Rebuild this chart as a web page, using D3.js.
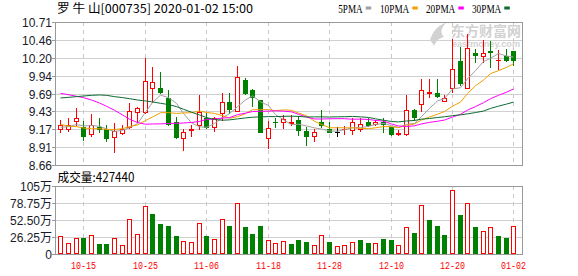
<!DOCTYPE html>
<html><head><meta charset="utf-8">
<script src="https://cdn.jsdelivr.net/npm/d3@7"></script>
<style>body{margin:0;background:#fff}svg{display:block}</style>
</head><body>
<svg id="c" width="578" height="276"></svg>
<script>
const dates = ["10-10","10-11","10-14","10-15","10-16","10-17","10-18","10-21","10-22","10-23","10-24","10-25","10-28","10-29","10-30","10-31","11-01","11-04","11-05","11-06","11-07","11-08","11-11","11-12","11-13","11-14","11-15","11-18","11-19","11-20","11-21","11-22","11-25","11-26","11-27","11-28","11-29","12-02","12-03","12-04","12-05","12-06","12-09","12-10","12-11","12-12","12-13","12-16","12-17","12-18","12-19","12-20","12-23","12-24","12-25","12-26","12-27","12-30","12-31","01-02"];
const open = [9.17,9.18,9.29,9.21,9.10,9.20,9.17,9.06,9.12,9.21, 9.42,9.42,9.77,9.76,9.62,9.28,9.05,9.16,9.23,9.34, 9.20,9.40,9.56,9.43,9.88,9.73,9.59,9.04,9.28,9.28, 9.26,9.31,9.15,9.08,9.28,9.18,9.14,9.17,9.16,9.18, 9.28,9.25,9.27,9.20,9.11,9.10,9.45,9.54,9.69,9.69, 9.58,9.76,10.15,9.77,10.26,10.22,10.30,10.16,10.22,10.30];
const high = [9.31,9.34,9.48,9.29,9.39,9.34,9.23,9.26,9.23,9.55, 9.49,10.19,10.06,9.99,9.74,9.35,9.18,9.23,9.67,9.41, 9.35,9.69,9.69,10.08,9.91,9.75,9.59,9.29,9.34,9.37, 9.37,9.36,9.21,9.18,9.45,9.28,9.21,9.22,9.33,9.34, 9.33,9.31,9.33,9.20,9.16,9.66,9.46,9.90,9.89,9.89, 9.67,10.47,10.35,10.54,10.32,10.45,10.44,10.31,10.33,10.30];
const low = [9.13,9.15,9.24,9.02,9.08,9.13,9.01,8.85,9.10,9.19, 9.28,9.40,9.57,9.69,9.23,9.05,8.87,9.08,9.18,9.19, 9.15,9.30,9.40,9.43,9.68,9.50,9.13,8.91,9.20,9.19, 9.24,9.09,8.95,9.00,9.20,9.13,9.07,9.11,9.11,9.15, 9.22,9.24,9.14,9.09,9.09,9.09,9.31,9.43,9.64,9.63, 9.58,9.71,9.80,9.77,10.13,10.13,10.06,10.04,10.15,10.10];
const close = [9.23,9.24,9.34,9.08,9.24,9.18,9.05,9.15,9.17,9.43, 9.47,9.86,9.85,9.70,9.25,9.06,9.13,9.18,9.42,9.21, 9.33,9.56,9.46,9.92,9.69,9.63,9.13,9.19,9.27,9.32, 9.28,9.16,9.07,9.13,9.24,9.14,9.14,9.18,9.27,9.25, 9.23,9.28,9.25,9.11,9.12,9.45,9.35,9.74,9.70,9.65, 9.62,10.04,9.83,10.34,10.24,10.26,10.28,10.17,10.16,10.17];
// volume in 万 (10k shares)
const volume = [28.4,17.6,24.8,25.3,29.5,16.0,16.0,24.8,14.5,54.8, 31.5,74.4,61.0,47.0,43.9,27.4,20.7,19.1,48.4,27.3, 23.7,54.6,43.8,79.3,41.2,30.4,43.8,22.1,17.0,20.6, 16.0,21.1,18.0,13.4,29.9,18.0,11.8,13.4,19.1,21.1, 16.5,16.5,22.7,21.1,13.4,41.2,31.9,75.2,52.0,42.7, 28.8,98.4,59.7,79.3,41.2,36.0,41.2,27.8,24.2,42.744];
const ma5 = [9.20,9.21,9.24,9.22,9.226,9.216,9.178,9.14,9.158,9.196, 9.254,9.416,9.556,9.662,9.626,9.544,9.398,9.264,9.208,9.20, 9.254,9.34,9.396,9.496,9.592,9.652,9.566,9.512,9.382,9.308, 9.238,9.244,9.22,9.192,9.176,9.148,9.144,9.166,9.194,9.196, 9.214,9.242,9.256,9.224,9.198,9.242,9.256,9.354,9.472,9.578, 9.612,9.75,9.768,9.896,10.014,10.142,10.19,10.258,10.222,10.208];
const ma10 = [9.24,9.22,9.21,9.19,9.18,9.18,9.17,9.17,9.18,9.211, 9.235,9.297,9.348,9.41,9.411,9.399,9.407,9.41,9.435,9.413, 9.399,9.369,9.33,9.352,9.396,9.453,9.453,9.454,9.439,9.45, 9.445,9.405,9.366,9.287,9.242,9.193,9.194,9.193,9.193,9.186, 9.181,9.193,9.211,9.209,9.197,9.228,9.249,9.305,9.348,9.388, 9.427,9.503,9.561,9.684,9.796,9.877,9.97,10.013,10.059,10.111];
const ma20 = [9.687,9.668,9.645,9.626,9.592,9.549,9.502,9.445,9.378,9.316, 9.269,9.245,9.248,9.25,9.255,9.258,9.262,9.27,9.285,9.312, 9.317,9.333,9.339,9.381,9.404,9.426,9.43,9.432,9.437,9.432, 9.422,9.387,9.348,9.32,9.319,9.323,9.324,9.324,9.316,9.318, 9.313,9.299,9.289,9.248,9.22,9.211,9.222,9.249,9.271,9.287, 9.304,9.348,9.386,9.447,9.497,9.553,9.61,9.659,9.704,9.75];
const ma30 = [9.621,9.630,9.640,9.649,9.659,9.664,9.659,9.640,9.626,9.611, 9.592,9.578,9.564,9.545,9.526,9.497,9.459,9.416,9.378,9.340, 9.312,9.302,9.307,9.321,9.335,9.345,9.350,9.354,9.354,9.358, 9.36,9.357,9.348,9.35,9.35,9.348,9.351,9.352,9.356,9.35, 9.342,9.322,9.302,9.283,9.278,9.291,9.299,9.317,9.327,9.341, 9.351,9.367,9.379,9.393,9.412,9.433,9.471,9.504,9.533,9.562];
const priceTicks = ["8.66","8.91","9.17","9.43","9.69","9.94","10.20","10.46","10.71"];
const volTickValues = [0,26.25,52.5,78.75,105];
const volTickLabels = ["0","26.25万","52.50万","78.75万","105万"];
const dateTicks = ["10-15","10-25","11-06","11-18","11-28","12-10","12-20","01-02"];
const maNames = ["5PMA","10PMA","20PMA","30PMA"];
const title = "罗 牛 山[000735] 2020-01-02 15:00";
const volTitle = "成交量:427440";

const RED="#ff0000", GREEN="#008000", BLACK="#000";
const maColors = ["#a0a0a0","#f0a000","#ff00ff","#0b6b32"];
const svg = d3.select("#c");
const L=55, R=522, PT=22, PB=165, VT=186, VB=254;

const x = d3.scaleBand().domain(dates).range([56.46, 517.26]);
const cx = d => Math.round(x(d) + x.bandwidth()/2);
const yP = d3.scaleLinear().domain([8.66,10.71]).range([PB,PT]);
const yV = d3.scaleLinear().domain([0,105]).range([VB,VT]);
const tickPos = d3.range(priceTicks.length).map(k => 8.66 + k*(10.71-8.66)/(priceTicks.length-1));

// ---------- grids ----------
const g = svg.append("g");
g.selectAll(".hg").data(tickPos.slice(1,-1)).join("line")
  .attr("x1",L).attr("x2",R)
  .attr("y1",d=>Math.round(yP(d))+0.5).attr("y2",d=>Math.round(yP(d))+0.5)
  .attr("stroke","#d0d0d0");
g.selectAll(".vg").data(volTickValues.slice(1,-1)).join("line")
  .attr("x1",L).attr("x2",R)
  .attr("y1",d=>Math.round(yV(d))+0.5).attr("y2",d=>Math.round(yV(d))+0.5)
  .attr("stroke","#d0d0d0");
dateTicks.forEach(dt=>{
  const xx = cx(dt)+0.5;
  g.append("line").attr("x1",xx).attr("x2",xx).attr("y1",PT).attr("y2",PB)
    .attr("stroke","#c8c8c8").attr("stroke-dasharray","4,4");
  g.append("line").attr("x1",xx).attr("x2",xx).attr("y1",VT).attr("y2",VB)
    .attr("stroke","#c8c8c8").attr("stroke-dasharray","4,4");
});

// ---------- watermark ----------
const wm = svg.append("g").attr("fill","#d2d2d2");
wm.append("path").attr("d","M430,40 C433,30 440,24 446,23 C441,28 440,33 444,37 C439,38 436,41 434,46 C433,43 431,42 430,40 Z");
wm.append("text").attr("x",451).attr("y",36).attr("font-family","Noto Sans CJK SC").attr("font-size",13.5).attr("font-weight","bold")
  .attr("textLength",70).attr("lengthAdjust","spacingAndGlyphs").text("东方财富网");
wm.append("text").attr("x",452).attr("y",47).attr("font-family","Liberation Sans").attr("font-size",8.5).attr("font-weight","bold")
  .attr("textLength",68).attr("lengthAdjust","spacingAndGlyphs").text("eastmoney.com");

// ---------- candles ----------
const idx = d3.range(dates.length);
const candleColor = i => close[i]>open[i]?RED:(close[i]<open[i]?GREEN:BLACK);
const cg = svg.append("g");
idx.forEach(i=>{
  const c = candleColor(i), xx = cx(dates[i]);
  const yo = yP(open[i]), yc = yP(close[i]);
  const top = Math.round(Math.min(yo,yc)), bot = Math.round(Math.max(yo,yc));
  cg.append("line").attr("x1",xx+0.5).attr("x2",xx+0.5)
    .attr("y1",Math.round(yP(high[i]))).attr("y2",Math.round(yP(low[i]))+1)
    .attr("stroke",c);
  if (bot-top < 2) {
    cg.append("rect").attr("x",xx-2).attr("y",top).attr("width",5).attr("height",Math.max(1,bot-top+1)).attr("fill",c);
  } else if (c===RED) {
    cg.append("rect").attr("x",xx-1.5).attr("y",top+0.5).attr("width",4).attr("height",bot-top)
      .attr("fill","#fff").attr("stroke",RED);
  } else {
    cg.append("rect").attr("x",xx-2).attr("y",top).attr("width",5).attr("height",bot-top+1).attr("fill",c);
  }
});

// ---------- MA lines ----------
[ma5,ma10,ma20,ma30].forEach((arr,k)=>{
  svg.append("path").datum(idx)
    .attr("d", d3.line().x(i=>cx(dates[i])+0.5).y(i=>yP(arr[i])))
    .attr("fill","none").attr("stroke",maColors[k]).attr("stroke-width",1);
});

// ---------- volume ----------
const vg = svg.append("g");
idx.forEach(i=>{
  const upv = i===0 ? close[i]>=open[i] : close[i]>=close[i-1];
  const xx = cx(dates[i]);
  const top = Math.round(yV(volume[i]));
  if (upv) {
    vg.append("rect").attr("x",xx-1.5).attr("y",top+0.5).attr("width",4).attr("height",VB-top-1)
      .attr("fill","#fff").attr("stroke",RED);
  } else {
    vg.append("rect").attr("x",xx-2).attr("y",top).attr("width",5).attr("height",VB-top).attr("fill",GREEN);
  }
});

// ---------- frames & axes ----------
const fr = svg.append("g").attr("stroke","#999").attr("fill","none");
fr.append("rect").attr("x",L+0.5).attr("y",PT+0.5).attr("width",R-L).attr("height",PB-PT);
fr.append("rect").attr("x",L+0.5).attr("y",VT+0.5).attr("width",R-L).attr("height",VB-VT);

const ax = svg.append("g").attr("font-family","Liberation Sans, Arial, Noto Sans CJK SC").attr("font-size",12).attr("fill","#1a1a2a");
tickPos.forEach((v,k)=>{
  const yy = Math.round(yP(v))+0.5;
  ax.append("line").attr("x1",52).attr("x2",L).attr("y1",yy).attr("y2",yy).attr("stroke","#999");
  ax.append("text").attr("x",52).attr("y",yy).attr("text-anchor","end").attr("dominant-baseline","central").text(priceTicks[k]);
});
volTickValues.forEach((v,k)=>{
  const yy = Math.round(yV(v))+0.5;
  ax.append("line").attr("x1",52).attr("x2",L).attr("y1",yy).attr("y2",yy).attr("stroke","#999");
  ax.append("text").attr("x",52).attr("y",yy).attr("text-anchor","end").attr("dominant-baseline","central")
    .attr("font-family","Liberation Sans, Noto Sans CJK SC").text(volTickLabels[k]);
});
dateTicks.forEach(dt=>{
  svg.append("text").attr("x",cx(dt)+0.5).attr("y",269).attr("text-anchor","middle")
    .attr("font-family","Liberation Mono, DejaVu Sans Mono").attr("font-size",10.5).attr("fill",RED)
    .attr("textLength",25).attr("lengthAdjust","spacingAndGlyphs").text(dt);
});

// ---------- titles & legend ----------
svg.append("text").attr("x",57).attr("y",13).attr("font-family","Noto Sans CJK SC, Liberation Sans").attr("font-size",12)
  .attr("fill","#000").attr("textLength",196).attr("lengthAdjust","spacingAndGlyphs").text(title);
svg.append("text").attr("x",57.5).attr("y",182).attr("font-family","Noto Sans CJK SC, Liberation Sans").attr("font-size",12.5)
  .attr("fill","#000").attr("textLength",77).attr("lengthAdjust","spacingAndGlyphs").text(volTitle);
const legX = [338.3,380,426,472], legW=[24.4,29.3,29.3,29.3];
maNames.forEach((n,k)=>{
  svg.append("text").attr("x",legX[k]).attr("y",12.5).attr("font-family","Liberation Serif, DejaVu Serif").attr("font-size",12)
    .attr("fill","#000").attr("textLength",legW[k]).attr("lengthAdjust","spacingAndGlyphs").text(n);
  svg.append("rect").attr("x",legX[k]+legW[k]+3).attr("y",6.5).attr("width",5.5).attr("height",3).attr("fill",maColors[k]);
});
</script>
</body></html>
